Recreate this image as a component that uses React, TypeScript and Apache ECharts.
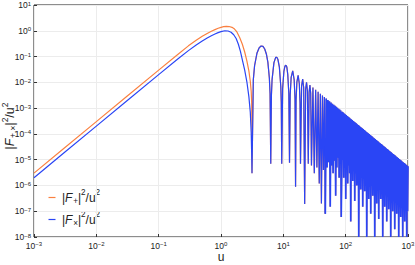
import React, { useEffect, useRef } from "react";
import * as echarts from "echarts";

// |F_x|^2/u^2 main hump
const blueMain: [number, number][] = [
  [0.001, 2e-6], [0.003, 1.8e-5], [0.01, 2e-4], [0.03, 1.8e-3], [0.1, 0.0199],
  [0.2, 0.078], [0.3, 0.17], [0.4, 0.28], [0.5, 0.4], [0.6, 0.52], [0.7, 0.64],
  [0.8, 0.75], [0.9, 0.85], [1.0, 0.93], [1.15, 1.0], [1.3, 0.98], [1.45, 0.88],
  [1.6, 0.7], [1.75, 0.5], [1.9, 0.3], [2.05, 0.16], [2.2, 0.075], [2.4, 0.03],
  [2.6, 0.0105], [2.8, 0.0028], [2.95, 7e-4], [3.05, 1.2e-4], [3.1, 2e-5], [3.1416, 3e-6],
];

// |F_+|^2/u^2 main hump
const orangeMain: [number, number][] = [
  [0.001, 3e-6], [0.003, 2.7e-5], [0.01, 3e-4], [0.03, 2.7e-3], [0.1, 0.0298],
  [0.2, 0.118], [0.3, 0.26], [0.4, 0.43], [0.5, 0.61], [0.6, 0.79], [0.7, 0.96],
  [0.8, 1.11], [0.9, 1.25], [1.0, 1.36], [1.1, 1.44], [1.22, 1.49], [1.35, 1.46],
  [1.5, 1.36], [1.65, 1.16], [1.8, 0.9], [2.0, 0.54], [2.2, 0.3], [2.4, 0.15],
  [2.6, 0.068], [2.8, 0.028], [2.95, 0.011], [3.05, 4.5e-3], [3.1, 1.8e-3],
  [3.125, 5e-4], [3.1416, 3e-6],
];

// oscillating lobes after the first zero (both curves nearly coincide here)
const lobesEarly: [number, number][] = [
  [3.299, 0.0124], [3.456, 0.044], [3.77, 0.134], [4.084, 0.216], [4.398, 0.257],
  [4.712, 0.248], [5.027, 0.197], [5.341, 0.126], [5.655, 0.059], [5.969, 0.0147],
  [6.126, 0.0036], [6.2832, 7e-6],
  [6.44, 0.0032], [6.597, 0.0128], [7.069, 0.058], [7.54, 0.093], [7.854, 0.094],
  [8.168, 0.079], [8.639, 0.039], [9.111, 0.0067], [9.268, 0.0017], [9.4248, 7e-6],
  [9.739, 0.0056], [10.21, 0.0269], [10.6, 0.042], [10.996, 0.0463], [11.39, 0.039],
  [11.781, 0.0202], [12.252, 0.0036], [12.566, 7.6e-6],
  [12.88, 0.0032], [13.352, 0.0157], [14.137, 0.028], [14.923, 0.0126], [15.394, 0.0023], [15.708, 9e-7],
  [16.02, 0.0021], [16.493, 0.0103], [17.279, 0.0188], [18.064, 0.0086], [18.535, 0.0016], [18.85, 7e-6],
  [19.635, 0.0073], [20.42, 0.0134], [21.206, 0.0062], [21.991, 1.9e-7],
  [22.776, 0.0054], [23.562, 0.0101], [24.347, 0.0047], [25.133, 7e-6],
  [25.918, 0.0042], [26.704, 0.0079], [27.489, 0.0037], [28.274, 6e-6],
  [29.845, 0.0063], [31.416, 3e-6],
  [32.987, 0.0052], [34.558, 5e-6],
  [36.128, 0.0043], [37.699, 1.2e-6],
  [39.27, 0.0036], [40.841, 2e-7],
  [42.412, 0.0031], [43.982, 4e-6],
  [45.553, 0.0027], [47.124, 8e-8],
];

const lobesDense: [number, number][] = [
  [47.124, 8e-8],
  [48.695, 2.36e-3], [50.265, 5e-6],
  [51.836, 2.08e-3], [53.407, 8e-6],
  [54.978, 1.85e-3], [56.549, 1.5e-7],
  [58.119, 1.66e-3], [59.69, 6e-6],
  [61.261, 1.49e-3], [62.832, 3e-6],
  [64.403, 1.35e-3], [65.973, 9e-6],
  [67.544, 1.23e-3], [69.115, 4e-7],
  [70.686, 1.12e-3], [72.257, 5e-6],
  [73.827, 1.03e-3], [75.398, 1.2e-5],
  [76.969, 9.45e-4], [78.54, 2e-6],
  [80.111, 8.73e-4], [81.681, 7e-6],
  [83.252, 8.08e-4], [84.823, 6e-8],
  [86.6, 4e-6], [88.2, 7.2e-4], [89.8, 1e-5], [91.5, 6.69e-4], [93.2, 2e-6], [95, 6.21e-4],
  [96.7, 8e-6], [98.5, 5.77e-4], [100.3, 3e-7], [102.2, 5.36e-4], [104.1, 5e-6], [106, 4.98e-4],
  [108, 1.2e-6], [110, 4.63e-4], [112, 6e-6], [114.2, 4.29e-4], [116.3, 3e-6], [118.5, 3.99e-4],
  [120.7, 4e-8], [123, 3.7e-4], [125.3, 4e-6], [127.6, 3.44e-4], [130, 1.5e-6], [132.4, 3.19e-4],
  [134.9, 5e-6], [137.4, 2.97e-4], [139.9, 2.5e-7], [142.5, 2.76e-4], [145.2, 3e-6], [147.9, 2.56e-4],
  [150.7, 1e-6], [153.5, 2.38e-4], [156.3, 4e-6], [159.2, 2.21e-4], [162.2, 1e-8], [165.2, 2.05e-4],
  [168.3, 2e-6], [171.4, 1.91e-4], [174.6, 7e-7], [177.9, 1.77e-4], [181.2, 2.5e-6], [184.6, 1.64e-4],
  [188, 1.5e-7], [191.5, 1.53e-4], [195.1, 1.8e-6], [198.7, 1.42e-4], [202.4, 6e-7], [206.2, 1.32e-4],
  [210, 2e-6], [214, 1.22e-4], [218, 1e-8], [222, 1.14e-4], [226.2, 1.2e-6], [230.4, 1.05e-4],
  [234.7, 3e-7], [239, 9.8e-5], [243.5, 1.5e-6], [248, 9.11e-5], [252.6, 8e-8], [257.3, 8.46e-5],
  [262.1, 1e-6], [267, 7.86e-5], [272, 4e-7], [277, 7.3e-5], [282.2, 1.2e-6], [287.5, 6.78e-5],
  [292.9, 1e-8], [298.3, 6.29e-5], [303.9, 8e-7], [309.5, 5.85e-5], [315.3, 2e-7], [321.2, 5.43e-5],
  [327.2, 9e-7], [333.2, 5.04e-5], [339.5, 5e-8], [345.8, 4.68e-5], [352.2, 7e-7], [358.8, 4.35e-5],
  [365.5, 3e-7], [372.3, 4.04e-5], [379.3, 6e-7], [386.3, 3.75e-5], [393.5, 1e-8], [400.8, 3.49e-5],
  [408.3, 5e-7], [415.9, 3.24e-5], [423.7, 1.5e-7], [431.5, 3.01e-5], [439.6, 5e-7], [447.7, 2.79e-5],
  [456.1, 4e-8], [464.6, 2.59e-5], [473.3, 4e-7], [482, 2.41e-5], [491, 1.2e-7], [500, 2.24e-5],
  [509.5, 4e-7], [519, 2.08e-5], [528.7, 1e-8], [538.5, 1.93e-5], [548.6, 3e-7], [558.8, 1.79e-5],
  [569.2, 1e-7], [579.8, 1.67e-5], [590.6, 3e-7], [601.6, 1.55e-5], [612.8, 2e-8], [624.2, 1.44e-5],
  [635.9, 2.5e-7], [647.7, 1.33e-5], [659.8, 8e-8], [672, 1.24e-5], [684.6, 2.5e-7], [697.3, 1.15e-5],
  [710.4, 1e-8], [723.5, 1.07e-5], [737.1, 2e-7], [750.7, 9.94e-6], [764.8, 6e-8], [779, 9.23e-6],
  [793.6, 1.8e-7], [808.3, 8.57e-6], [823.4, 1e-8], [838.7, 7.96e-6], [854.4, 1.5e-7], [870.2, 7.4e-6],
  [886.5, 4e-8], [903, 6.87e-6], [919.9, 1.2e-7], [937, 6.38e-6], [954.5, 1e-8], [972, 5.93e-6],
  [985, 1e-7], [1000, 5.6e-6],
];

// label pieces: [text, kind] where kind n=normal, i=italic, b=subscript, p=superscript
type Piece = [string, string];
const legendPlus: Piece[] = [["|", "n"], ["F", "i"], ["+", "b"], ["|", "n"], ["2", "p"], ["/u", "n"], ["2", "p"]];
const legendCross: Piece[] = [["|", "n"], ["F", "i"], ["×", "b"], ["|", "n"], ["2", "p"], ["/u", "n"], ["2", "p"]];
const yAxisPieces: Piece[] = [["|", "n"], ["F", "i"], ["+,×", "b"], ["|", "n"], ["2", "p"], ["/u", "n"], ["2", "p"]];
const xAxisName = "u";

const FONT = "Liberation Sans";
const ORANGE = "#fa8040";
const BLUE = "#2a45f5";
const TXT = "#222";

const expLabel = (v: number) => {
  const e = Math.round(Math.log10(v));
  return "10{sup|" + (e < 0 ? "\u2212" + -e : String(e)) + "}";
};

let ctx2d: CanvasRenderingContext2D | null = null;
const measure = (t: string, size: number, italic: boolean) => {
  if (!ctx2d) ctx2d = document.createElement("canvas").getContext("2d");
  if (!ctx2d) return t.length * size * 0.55;
  ctx2d.font = (italic ? "italic " : "") + size + "px \"" + FONT + "\"";
  return ctx2d.measureText(t).width;
};

const buildLabel = (pieces: Piece[], base: number, x: number, y: number, rotation: number, center: boolean) => {
  const small = base * 0.68;
  const specs = pieces.map(([t, k]) => {
    const size = k === "b" || k === "p" ? small : base;
    const dy = k === "b" ? base * 0.3 : k === "p" ? -base * 0.38 : 0;
    return { t, size, dy, it: k === "i", w: measure(t, size, k === "i") + (k === "i" ? base * 0.06 : 0) };
  });
  const total = specs.reduce((s, p) => s + p.w, 0);
  let cx = center ? -total / 2 : 0;
  const children = specs.map((p) => {
    const el = {
      type: "text", x: cx, y: p.dy, silent: true,
      style: {
        text: p.t, fill: TXT, fontSize: p.size, fontFamily: FONT,
        fontStyle: p.it ? "italic" : "normal", verticalAlign: "middle", align: "left",
      },
    };
    cx += p.w;
    return el;
  });
  return { type: "group", x, y, rotation, silent: true, children };
};

export default function App() {
  const ref = useRef<HTMLDivElement>(null);
  useEffect(() => {
    if (!ref.current) return;
    const chart = echarts.init(ref.current, undefined, { renderer: "svg" });
    const legendY = [197.5, 219.5];
    const graphic: any[] = [
      { type: "line", silent: true, shape: { x1: 48.5, y1: legendY[0], x2: 55.5, y2: legendY[0] }, style: { stroke: ORANGE, lineWidth: 1.2 } },
      { type: "line", silent: true, shape: { x1: 48.5, y1: legendY[1], x2: 55.5, y2: legendY[1] }, style: { stroke: BLUE, lineWidth: 1.2 } },
      buildLabel(legendPlus, 12, 62, legendY[0], 0, false),
      buildLabel(legendCross, 12, 62, legendY[1], 0, false),
      buildLabel(yAxisPieces, 12.5, 9.5, 126, Math.PI / 2, true),
      {
        type: "text", silent: true, x: 221, y: 256.5,
        style: { text: xAxisName, fill: TXT, fontSize: 12, fontFamily: FONT, align: "center", verticalAlign: "middle" },
      },
    ];
    chart.setOption({
      animation: false,
      grid: {
        left: 34, right: 7, top: 5, bottom: 28, containLabel: false, outerBoundsMode: "none",
        show: true, borderColor: "#1a1a1a", borderWidth: 1, backgroundColor: "transparent",
      },
      graphic,
      xAxis: {
        type: "log", logBase: 10, min: 0.001, max: 1000, splitNumber: 6,
        axisLine: { show: false },
        axisTick: { show: true, inside: true, length: 3, lineStyle: { color: "#333" } },
        splitLine: { show: true, lineStyle: { color: "#ececec", width: 1 } },
        axisLabel: {
          margin: 4, fontFamily: FONT, fontSize: 8.5, color: TXT,
          formatter: expLabel,
          rich: { sup: { fontFamily: FONT, fontSize: 6, verticalAlign: "top", lineHeight: 7, color: TXT } },
        },
      },
      yAxis: {
        type: "log", logBase: 10, min: 1e-8, max: 10, splitNumber: 9,
        axisLine: { show: false },
        axisTick: { show: true, inside: true, length: 3, lineStyle: { color: "#333" } },
        splitLine: { show: true, lineStyle: { color: "#ececec", width: 1 } },
        axisLabel: {
          margin: 3, fontFamily: FONT, fontSize: 8.5, color: TXT,
          formatter: expLabel,
          rich: { sup: { fontFamily: FONT, fontSize: 6, verticalAlign: "top", lineHeight: 7, color: TXT } },
        },
      },
      series: [
        {
          name: "|F+|²/u²", type: "line", showSymbol: false, data: [...orangeMain, ...lobesEarly],
          lineStyle: { color: ORANGE, width: 1.2 }, itemStyle: { color: ORANGE }, z: 2,
        },
        {
          name: "|F+|²/u² tail", type: "line", showSymbol: false, data: lobesDense,
          lineStyle: { color: ORANGE, width: 1.2 }, itemStyle: { color: ORANGE }, z: 2,
        },
        {
          name: "|F×|²/u²", type: "line", showSymbol: false, data: [...blueMain, ...lobesEarly],
          lineStyle: { color: BLUE, width: 1.2 }, itemStyle: { color: BLUE }, z: 3,
        },
        {
          name: "|F×|²/u² tail", type: "line", showSymbol: false, data: lobesDense,
          lineStyle: { color: BLUE, width: 1.7 }, itemStyle: { color: BLUE }, z: 3,
        },
      ],
    });
    return () => chart.dispose();
  }, []);
  return <div ref={ref} style={{ position: "absolute", left: 0, top: 0, width: 415, height: 265 }} />;
}
